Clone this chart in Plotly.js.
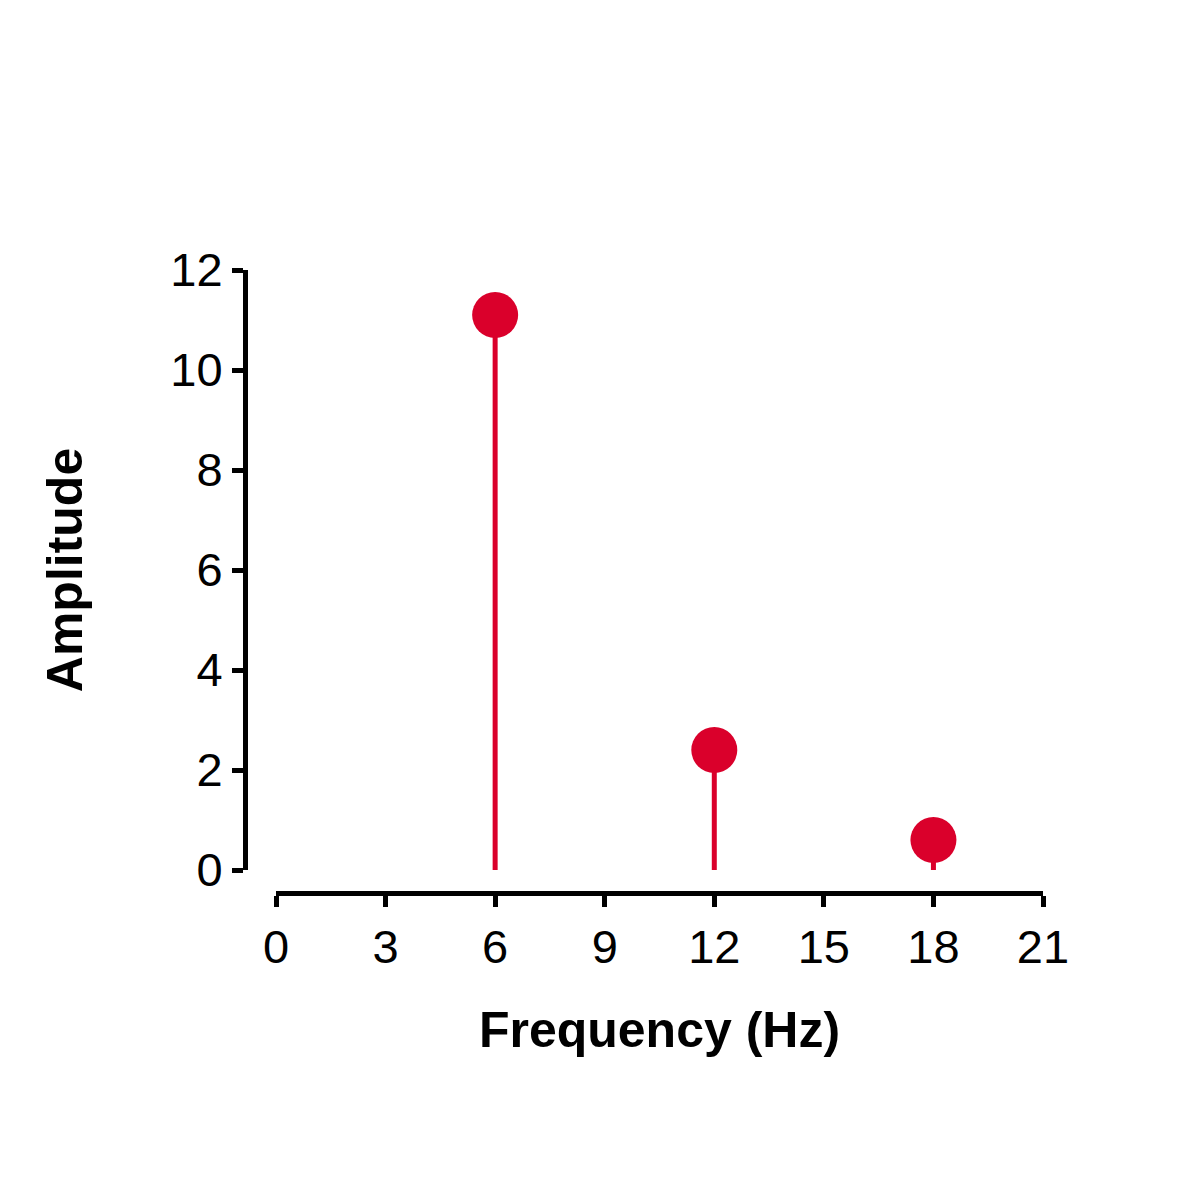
<!DOCTYPE html>
<html>
<head>
<meta charset="utf-8">
<script src="https://cdn.plot.ly/plotly-3.0.1.min.js"></script>
<style>html,body{margin:0;padding:0;background:#fff;}</style>
</head>
<body>
<div id="chart" style="width:1200px;height:1200px;"></div>
<script>
const frequencies = [6, 12, 18];
const amplitudes = [11.1, 2.4, 0.6];
const xTicks = [0, 3, 6, 9, 12, 15, 18, 21];
const yTicks = [0, 2, 4, 6, 8, 10, 12];

const red = '#DA002B';
const stemX = [], stemY = [];
frequencies.forEach((f, i) => { stemX.push(f, f, null); stemY.push(0, amplitudes[i], null); });

const traces = [
  { type: 'scatter', mode: 'lines', x: stemX, y: stemY, line: { color: red, width: 5 }, hoverinfo: 'skip', showlegend: false },
  { type: 'scatter', mode: 'markers', x: frequencies, y: amplitudes, marker: { color: red, size: 46, line: { width: 0 } }, showlegend: false }
];

const font = { family: '"Liberation Sans", Arial, sans-serif', color: '#000' };
const layout = {
  width: 1200, height: 1200,
  margin: { l: 0, r: 0, t: 0, b: 0 },
  paper_bgcolor: '#fff', plot_bgcolor: 'rgba(0,0,0,0)',
  showlegend: false,
  font: font,
  xaxis: {
    domain: [276 / 1200, 1043 / 1200],
    range: [0, 21],
    anchor: 'free', position: (1200 - 893) / 1200,
    tickvals: xTicks, ticktext: xTicks.map(String),
    ticks: 'outside', ticklen: 11, tickwidth: 5, tickcolor: '#000',
    showline: true, linewidth: 5, linecolor: '#000',
    showgrid: false, zeroline: false,
    tickfont: { size: 47, family: font.family, color: '#000' },
    title: { text: '<b>Frequency (Hz)</b>', font: { size: 50, family: font.family, color: '#000' }, standoff: 39 },
    automargin: false
  },
  yaxis: {
    domain: [(1200 - 870) / 1200, (1200 - 270) / 1200],
    range: [0, 12],
    anchor: 'free', position: 245 / 1200,
    tickvals: yTicks, ticktext: yTicks.map(String),
    ticks: 'outside', ticklen: 11, tickwidth: 5, tickcolor: '#000',
    showline: true, linewidth: 5, linecolor: '#000',
    showgrid: false, zeroline: false,
    tickfont: { size: 47, family: font.family, color: '#000' },
    title: { text: '<b>Amplitude</b>', font: { size: 50, family: font.family, color: '#000' }, standoff: 70 },
    automargin: false
  }
};

Plotly.newPlot('chart', traces, layout, { displayModeBar: false, staticPlot: true });
</script>
</body>
</html>
